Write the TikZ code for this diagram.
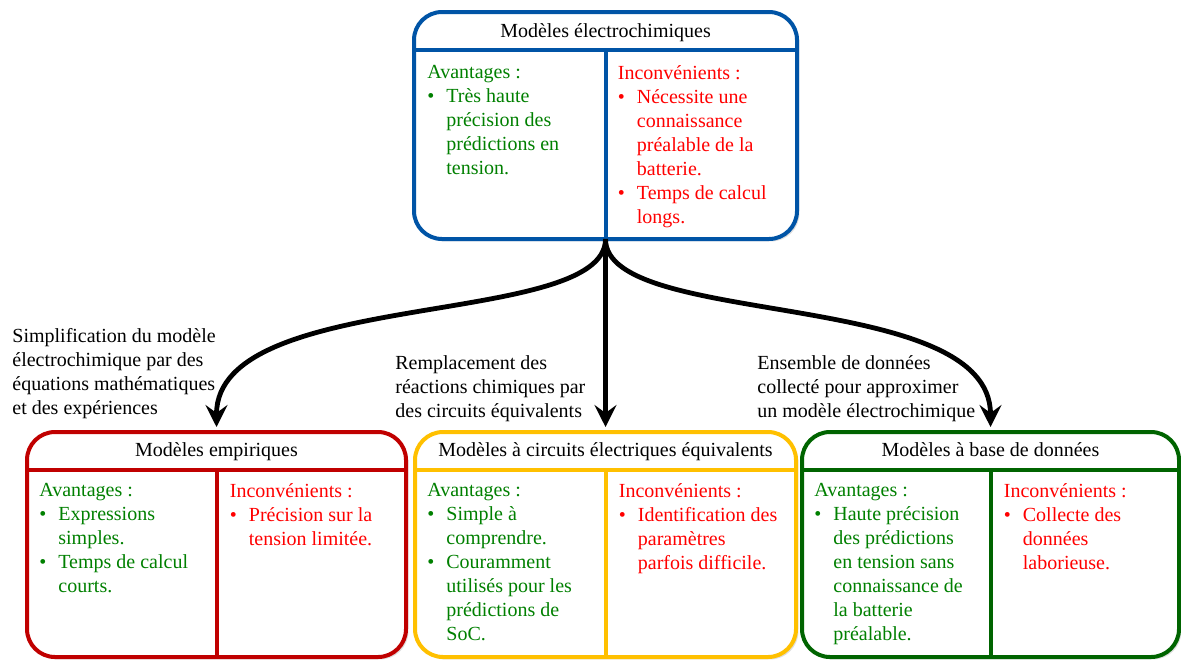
\documentclass[tikz,border=0pt]{standalone}
\usepackage{fontspec}
\setmainfont{Liberation Serif}
\usetikzlibrary{arrows.meta,shadows}

\definecolor{bleuM}{RGB}{0,84,166}
\definecolor{rougeM}{RGB}{192,0,0}
\definecolor{jauneM}{RGB}{255,192,0}
\definecolor{vertM}{RGB}{0,100,0}
\definecolor{vertT}{RGB}{0,128,0}
\definecolor{rougeT}{RGB}{255,0,0}

% bullet and indent for the lists
\newcommand{\puce}{\makebox[9.5pt][l]{\textbullet}}
\newcommand{\suite}{\hspace*{9.5pt}}

\begin{document}
\begin{tikzpicture}[x=0.5pt,y=-0.5pt,
  boite/.style={draw=#1, line width=2pt, fill=white, rounded corners=14pt,
    outer sep=0pt, inner sep=0pt,
    drop shadow={opacity=0.25, shadow xshift=1.2pt, shadow yshift=-1.2pt}},
  trait/.style={draw=#1, line width=2pt},
  titre/.style={anchor=base, inner sep=0pt},
  avant/.style={text=vertT, align=left, anchor=north west, inner sep=0pt},
  incon/.style={text=rougeT, align=left, anchor=north west, inner sep=0pt},
  legende/.style={align=left, anchor=north west, inner sep=0pt},
  fleche/.style={-{Stealth[length=11pt,width=11pt,inset=4pt]}, line width=2.4pt}]
  \useasboundingbox (0,0) rectangle (1181,659);

  % the four boxes (pixel coordinates, y pointing down)
  \node[boite=bleuM, minimum width=191.5pt, minimum height=113.5pt] (electro) at (605.5,125.5) {};
  \node[boite=rougeM, minimum width=189.5pt, minimum height=112.5pt] (empirique) at (216.5,544.5) {};
  \node[boite=jauneM, minimum width=190.5pt, minimum height=112.5pt] (circuit) at (605.5,544.5) {};
  \node[boite=vertM, minimum width=188.5pt, minimum height=112.5pt] (donnees) at (990.5,544.5) {};

  % title band and column split of each box
  \foreach \boite/\couleur in {electro/bleuM, empirique/rougeM, circuit/jauneM, donnees/vertM} {
    \draw[trait=\couleur] ([yshift=-19pt]\boite.north west) -- ([yshift=-19pt]\boite.north east);
    \draw[trait=\couleur] ([yshift=-19pt]\boite.north) -- (\boite.south);
  }

  % -- electrochemical models
  \node[titre] (electroT) at ([yshift=-12.5pt]electro.north) {Modèles électrochimiques};
  \node[avant] (electroA) at ([xshift=6.5pt,yshift=-26.5pt]electro.north west)
    {Avantages :\\ \puce Très haute\\ \suite précision des\\ \suite prédictions en\\ \suite tension.};
  \node[incon] (electroI) at ([xshift=6pt,yshift=-26.5pt]electro.north)
    {Inconvénients :\\ \puce Nécessite une\\ \suite connaissance\\ \suite préalable de la\\
     \suite batterie.\\ \puce Temps de calcul\\ \suite longs.};

  % -- empirical models
  \node[titre] (empiriqueT) at ([yshift=-12pt]empirique.north) {Modèles empiriques};
  \node[avant] (empiriqueA) at ([xshift=6pt,yshift=-25.5pt]empirique.north west)
    {Avantages :\\ \puce Expressions\\ \suite simples.\\ \puce Temps de calcul\\ \suite courts.};
  \node[incon] (empiriqueI) at ([xshift=6.5pt,yshift=-25.5pt]empirique.north)
    {Inconvénients :\\ \puce Précision sur la\\ \suite tension limitée.};

  % -- equivalent circuit models
  \node[titre] (circuitT) at ([yshift=-12pt]circuit.north) {Modèles à circuits électriques équivalents};
  \node[avant] (circuitA) at ([xshift=6pt,yshift=-25.5pt]circuit.north west)
    {Avantages :\\ \puce Simple à\\ \suite comprendre.\\ \puce Couramment\\ \suite utilisés pour les\\
     \suite prédictions de\\ \suite SoC.};
  \node[incon] (circuitI) at ([xshift=6.5pt,yshift=-25.5pt]circuit.north)
    {Inconvénients :\\ \puce Identification des\\ \suite paramètres\\ \suite parfois difficile.};

  % -- data-driven models
  \node[titre] (donneesT) at ([yshift=-12pt]donnees.north) {Modèles à base de données};
  \node[avant] (donneesA) at ([xshift=6pt,yshift=-25.5pt]donnees.north west)
    {Avantages :\\ \puce Haute précision\\ \suite des prédictions\\ \suite en tension sans\\
     \suite connaissance de\\ \suite la batterie\\ \suite préalable.};
  \node[incon] (donneesI) at ([xshift=6.5pt,yshift=-25.5pt]donnees.north)
    {Inconvénients :\\ \puce Collecte des\\ \suite données\\ \suite laborieuse.};

  % arrows from the top box
  \draw[fleche] (electro.south) .. controls +(0,90) and +(0,-140) .. ([yshift=2.5pt]empirique.north);
  \draw[fleche] (electro.south) -- ([yshift=2.5pt]circuit.north);
  \draw[fleche] (electro.south) .. controls +(0,90) and +(0,-140) .. ([yshift=2.5pt]donnees.north);

  % arrow labels
  \node[legende] (legEmp) at (12,328)
    {Simplification du modèle\\ électrochimique par des\\ équations mathématiques\\ et des expériences};
  \node[legende] (legCirc) at (395,355)
    {Remplacement des\\ réactions chimiques par\\ des circuits équivalents};
  \node[legende] (legBase) at (757,355)
    {Ensemble de données\\ collecté pour approximer\\ un modèle électrochimique};
\end{tikzpicture}
\end{document}
